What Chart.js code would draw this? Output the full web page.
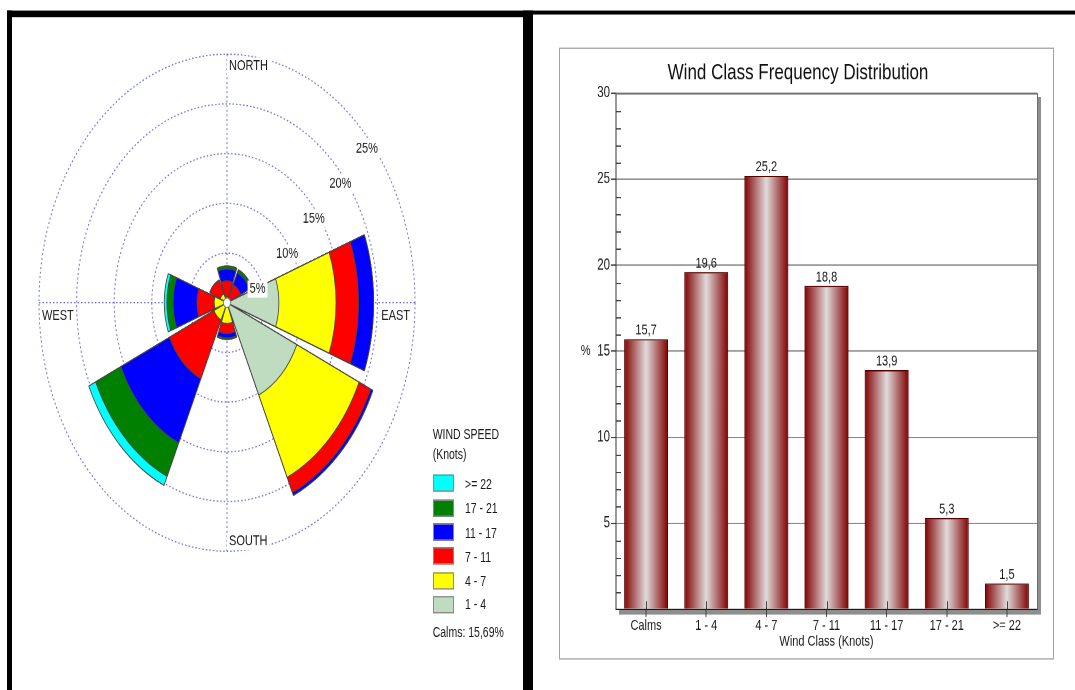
<!DOCTYPE html>
<html>
<head>
<meta charset="utf-8">
<title>Wind Rose and Wind Class Frequency Distribution</title>
<script src="https://cdn.jsdelivr.net/npm/chart.js@4.4.1/dist/chart.umd.min.js"></script>
<style>
  html, body { margin: 0; padding: 0; background: #fff; overflow: hidden; }
  body { width: 1075px; height: 690px; position: relative; font-family: "Liberation Sans", Arial, sans-serif; }
  /* the source picture is stretched vertically, so lay out flat and stretch the whole page */
  #page { position: absolute; left: 0; top: 0; width: 1075px; height: 522px; transform: scaleY(1.3218); transform-origin: 0 0; }
  .rule { position: absolute; background: #000; }
  #roseChart { position: absolute; left: 37px; top: 39.2px; }
  #frame { position: absolute; left: 558.5px; top: 35.8px; width: 495.7px; height: 462.9px; border: 1px solid #a4a4a4; box-sizing: border-box; }
  #classChart { position: absolute; left: 559px; top: 36.8px; }
  .legend { position: absolute; font-size: 10.5px; color: #1a1a1a; line-height: 12px; white-space: nowrap; }
  .swatch { position: absolute; width: 21.3px; height: 13.2px; box-sizing: border-box; border: 1px solid #8a8a8a; }
</style>
</head>
<body>
<div id="page">
  <div class="rule" style="left:7px; top:7.6px; width:525.7px; height:5.3px;"></div>
  <div class="rule" style="left:532.7px; top:7.6px; width:542.3px; height:3.4px;"></div>
  <div class="rule" style="left:7px; top:7.6px; width:5px; height:514.4px;"></div>
  <div class="rule" style="left:522.7px; top:7.6px; width:10px; height:514.4px;"></div>

  <canvas id="roseChart" width="380" height="380"></canvas>

  <div class="legend" style="left:432.7px; top:322.3px;">WIND SPEED</div>
  <div class="legend" style="left:432.7px; top:337.4px;">(Knots)</div>
  <div class="legend" id="calmsText" style="left:432.7px; top:471.8px;"></div>

  <div id="frame"></div>
  <canvas id="classChart" width="494" height="461"></canvas>
</div>
<script>
// ---- wind rose data (percent of time), directions clockwise from north ----
const directions = ['N', 'NE', 'E', 'SE', 'S', 'SW', 'W', 'NW'];
const speedClasses = ['1 - 4', '4 - 7', '7 - 11', '11 - 17', '17 - 21', '>= 22'];
const speedColors = ['#c0dcc0', '#ffff00', '#ff0000', '#0000ff', '#008000', '#00ffff'];
const speed1to4   = [0,   0,    6.9, 10.2, 0,    0,   0,    0];
const speed4to7   = [0.6, 0.4,  7.6, 9.1,  2.1,  1.9, 1.7,  1.0];
const speed7to11  = [1.6, 1.6,  3.0, 1.7,  1.0,  6.5, 2.3,  1.5];
const speed11to17 = [1.2, 1.3,  2.0, 0.3,  0.45, 7.1, 3.15, 0];
const speed17to21 = [0.3, 0.3,  0,   0,    0.15, 3.7, 0.85, 0];
const speed22up   = [0,   0.05, 0,   0,    0,    1.0, 0.35, 0];
const roseTicks = [5, 10, 15, 20, 25];
const calmsPercent = 15.69;

// ---- wind class frequency data ----
const windClasses = ['Calms', '1 - 4', '4 - 7', '7 - 11', '11 - 17', '17 - 21', '>= 22'];
const classFrequency = [15.7, 19.6, 25.2, 18.8, 13.9, 5.3, 1.5];

const FONT = '"Liberation Sans", Arial, sans-serif';
const SECTOR = 41;   // degrees covered by each direction
const GAP = 4;       // empty wedge between directions
const BAR_PCT = 0.73;

// decimal comma like the original
const fmt = (v, d) => v.toFixed(d).replace('.', ',');

document.getElementById('calmsText').textContent = 'Calms:  ' + fmt(calmsPercent, 2) + '%';

// legend, top row is the fastest class
const page = document.getElementById('page');
for (let k = speedClasses.length - 1, row = 0; k >= 0; k--, row++) {
    const top = 359.3 + row * 18.3;
    const sw = document.createElement('div');
    sw.className = 'swatch';
    sw.style.left = '432.7px';
    sw.style.top = top + 'px';
    sw.style.background = speedColors[k];
    page.appendChild(sw);
    const tx = document.createElement('div');
    tx.className = 'legend';
    tx.style.left = '465px';
    tx.style.top = (top + 0.6) + 'px';
    tx.textContent = speedClasses[k];
    page.appendChild(tx);
}

// stacked rose: each dataset holds the running total, small ones are drawn on top
const speedSeries = [speed1to4, speed4to7, speed7to11, speed11to17, speed17to21, speed22up];
const sliceLabels = [];
directions.forEach(d => sliceLabels.push(d, ''));
let running = directions.map(() => 0);
const roseDatasets = speedSeries.map((series, k) => {
    running = running.map((v, i) => v + series[i]);
    const data = [];
    running.forEach(v => data.push(v, 0));
    return {
        label: speedClasses[k],
        data,
        backgroundColor: speedColors[k],
        borderColor: '#454545',
        borderWidth: c => (c.raw > 0 ? 0.8 : 0),
        angle: c => (c.dataIndex % 2 === 0 ? SECTOR : GAP)
    };
});

function boxedText(ctx, text, x, y, align) {
    const w = ctx.measureText(text).width;
    const left = align === 'left' ? x : (align === 'right' ? x - w : x - w / 2);
    ctx.fillStyle = '#fff';
    ctx.fillRect(left - 2, y - 6.5, w + 4, 13);
    ctx.fillStyle = '#1a1a1a';
    ctx.textAlign = align;
    ctx.textBaseline = 'middle';
    ctx.fillText(text, x, y);
}

const roseDecor = {
    id: 'roseDecor',
    beforeDatasetsDraw(chart) {
        const r = chart.scales.r;
        const ctx = chart.ctx;
        const cx = r.xCenter, cy = r.yCenter;
        const outer = r.getDistanceFromCenterForValue(r.max);
        ctx.save();
        ctx.strokeStyle = 'rgba(80, 80, 205, 0.8)';
        ctx.lineWidth = 1;
        ctx.setLineDash([1.5, 2]);
        roseTicks.forEach(v => {
            ctx.beginPath();
            ctx.arc(cx, cy, r.getDistanceFromCenterForValue(v), 0, Math.PI * 2);
            ctx.stroke();
        });
        ctx.beginPath();
        ctx.moveTo(cx, cy - outer); ctx.lineTo(cx, cy + outer);
        ctx.moveTo(cx - outer, cy); ctx.lineTo(cx + outer, cy);
        ctx.stroke();
        ctx.restore();
    },
    afterDatasetsDraw(chart) {
        const r = chart.scales.r;
        const ctx = chart.ctx;
        const cx = r.xCenter, cy = r.yCenter;
        const outer = r.getDistanceFromCenterForValue(r.max);
        ctx.save();
        // calm hole in the middle
        ctx.beginPath();
        ctx.arc(cx, cy, 3.6, 0, Math.PI * 2);
        ctx.fillStyle = '#fff';
        ctx.fill();
        ctx.strokeStyle = '#777';
        ctx.lineWidth = 0.8;
        ctx.stroke();
        ctx.font = '11px ' + FONT;
        boxedText(ctx, 'NORTH', cx + 2, cy - outer + 9, 'left');
        boxedText(ctx, 'SOUTH', cx + 2, cy + outer - 7.5, 'left');
        boxedText(ctx, 'EAST', cx + outer - 5, cy + 9.8, 'right');
        boxedText(ctx, 'WEST', cx - outer + 3, cy + 9.8, 'left');
        // ring values along the north-east diagonal
        roseTicks.forEach(v => {
            const d = r.getDistanceFromCenterForValue(v) * Math.SQRT1_2;
            boxedText(ctx, v + '%', cx + d - 4, cy - d + 16.3, 'left');
        });
        ctx.restore();
    }
};

new Chart(document.getElementById('roseChart'), {
    type: 'polarArea',
    data: { labels: sliceLabels, datasets: roseDatasets },
    options: {
        responsive: false,
        animation: false,
        devicePixelRatio: 2,
        layout: { padding: 2 },
        plugins: { legend: { display: false }, tooltip: { enabled: false } },
        scales: {
            r: {
                min: 0,
                max: 25,
                startAngle: -SECTOR / 2,
                ticks: { display: false, stepSize: 5 },
                grid: { display: false },
                angleLines: { display: false },
                pointLabels: { display: false }
            }
        }
    },
    plugins: [roseDecor]
});

// ---- bar chart ----
function barFill(c) {
    const chart = c.chart;
    const xs = chart.scales.x;
    if (!chart.chartArea || !xs || c.dataIndex === undefined) return '#8b0000';
    const mid = xs.getPixelForValue(c.dataIndex);
    const half = xs.width / windClasses.length * BAR_PCT / 2;
    const g = chart.ctx.createLinearGradient(mid - half, 0, mid + half, 0);
    g.addColorStop(0, '#820000');
    g.addColorStop(0.5, '#e0dcdc');
    g.addColorStop(1, '#820000');
    return g;
}

const barDecor = {
    id: 'barDecor',
    beforeDraw(chart) {
        const { ctx, chartArea: a } = chart;
        ctx.save();
        ctx.fillStyle = '#8e8e8e';
        ctx.fillRect(a.left + 3, a.top + 3, a.right - a.left + 1, a.bottom - a.top + 1);
        ctx.fillStyle = '#fff';
        ctx.fillRect(a.left, a.top, a.right - a.left, a.bottom - a.top);
        ctx.restore();
    },
    afterDatasetsDraw(chart) {
        const { ctx, chartArea: a, scales: { x, y } } = chart;
        ctx.save();
        ctx.lineWidth = 1;
        ctx.strokeStyle = '#6e6e6e';
        ctx.beginPath();
        ctx.moveTo(a.left, a.top + 0.5);
        ctx.lineTo(a.right + 0.5, a.top + 0.5);
        ctx.lineTo(a.right + 0.5, a.bottom);
        ctx.stroke();
        // minor ticks inside the value axis
        ctx.strokeStyle = '#444';
        for (let v = y.min + 1; v < y.max; v++) {
            if (v % 5 === 0) continue;
            const py = Math.round(y.getPixelForValue(v)) + 0.5;
            ctx.beginPath();
            ctx.moveTo(a.left, py);
            ctx.lineTo(a.left + 5, py);
            ctx.stroke();
        }
        // category ticks reach up into the bars
        x.ticks.forEach((t, i) => {
            const px = Math.round(x.getPixelForTick(i)) + 0.5;
            ctx.beginPath();
            ctx.moveTo(px, a.bottom - 6);
            ctx.lineTo(px, a.bottom);
            ctx.stroke();
        });
        // value labels
        ctx.fillStyle = '#1a1a1a';
        ctx.font = '11px ' + FONT;
        ctx.textAlign = 'center';
        ctx.textBaseline = 'bottom';
        chart.getDatasetMeta(0).data.forEach((bar, i) => {
            ctx.fillText(fmt(classFrequency[i], 1), bar.x, bar.y - 1);
        });
        // unit beside the 15 tick
        ctx.textBaseline = 'middle';
        ctx.fillText('%', y.left + 26.6, y.getPixelForValue(15));
        ctx.restore();
    }
};

new Chart(document.getElementById('classChart'), {
    type: 'bar',
    data: {
        labels: windClasses,
        datasets: [{
            data: classFrequency,
            backgroundColor: barFill,
            borderColor: '#560000',
            borderWidth: 1,
            categoryPercentage: BAR_PCT,
            barPercentage: 1
        }]
    },
    options: {
        responsive: false,
        animation: false,
        devicePixelRatio: 2,
        layout: { padding: { left: 0, right: 16, top: 0, bottom: 0 } },
        plugins: {
            legend: { display: false },
            tooltip: { enabled: false },
            title: {
                display: true,
                text: 'Wind Class Frequency Distribution',
                color: '#111',
                font: { family: FONT, size: 17, weight: 'normal' },
                padding: { top: 8.2, bottom: 4.9 }
            }
        },
        scales: {
            x: {
                grid: { offset: false, drawOnChartArea: false, tickLength: 6, tickColor: '#444' },
                border: { color: '#1a1a1a' },
                ticks: { color: '#1a1a1a', padding: 0, font: { family: FONT, size: 11 } },
                title: {
                    display: true,
                    text: 'Wind Class (Knots)',
                    color: '#1a1a1a',
                    font: { family: FONT, size: 11 },
                    padding: { top: 0, bottom: 5.9 }
                },
                afterFit: s => { s.height = 37.1; }
            },
            y: {
                min: 0,
                max: 30,
                ticks: {
                    stepSize: 5,
                    padding: 1,
                    color: '#1a1a1a',
                    font: { family: FONT, size: 11.5 },
                    callback: v => (v === 0 ? '' : v)
                },
                grid: {
                    color: '#8a8a8a',
                    tickLength: 5,
                    tickColor: c => (c.tick && c.tick.value === 0 ? 'rgba(0,0,0,0)' : '#444')
                },
                border: { color: '#333' },
                afterFit: s => { s.width = 57; }
            }
        }
    },
    plugins: [barDecor]
});
</script>
</body>
</html>
